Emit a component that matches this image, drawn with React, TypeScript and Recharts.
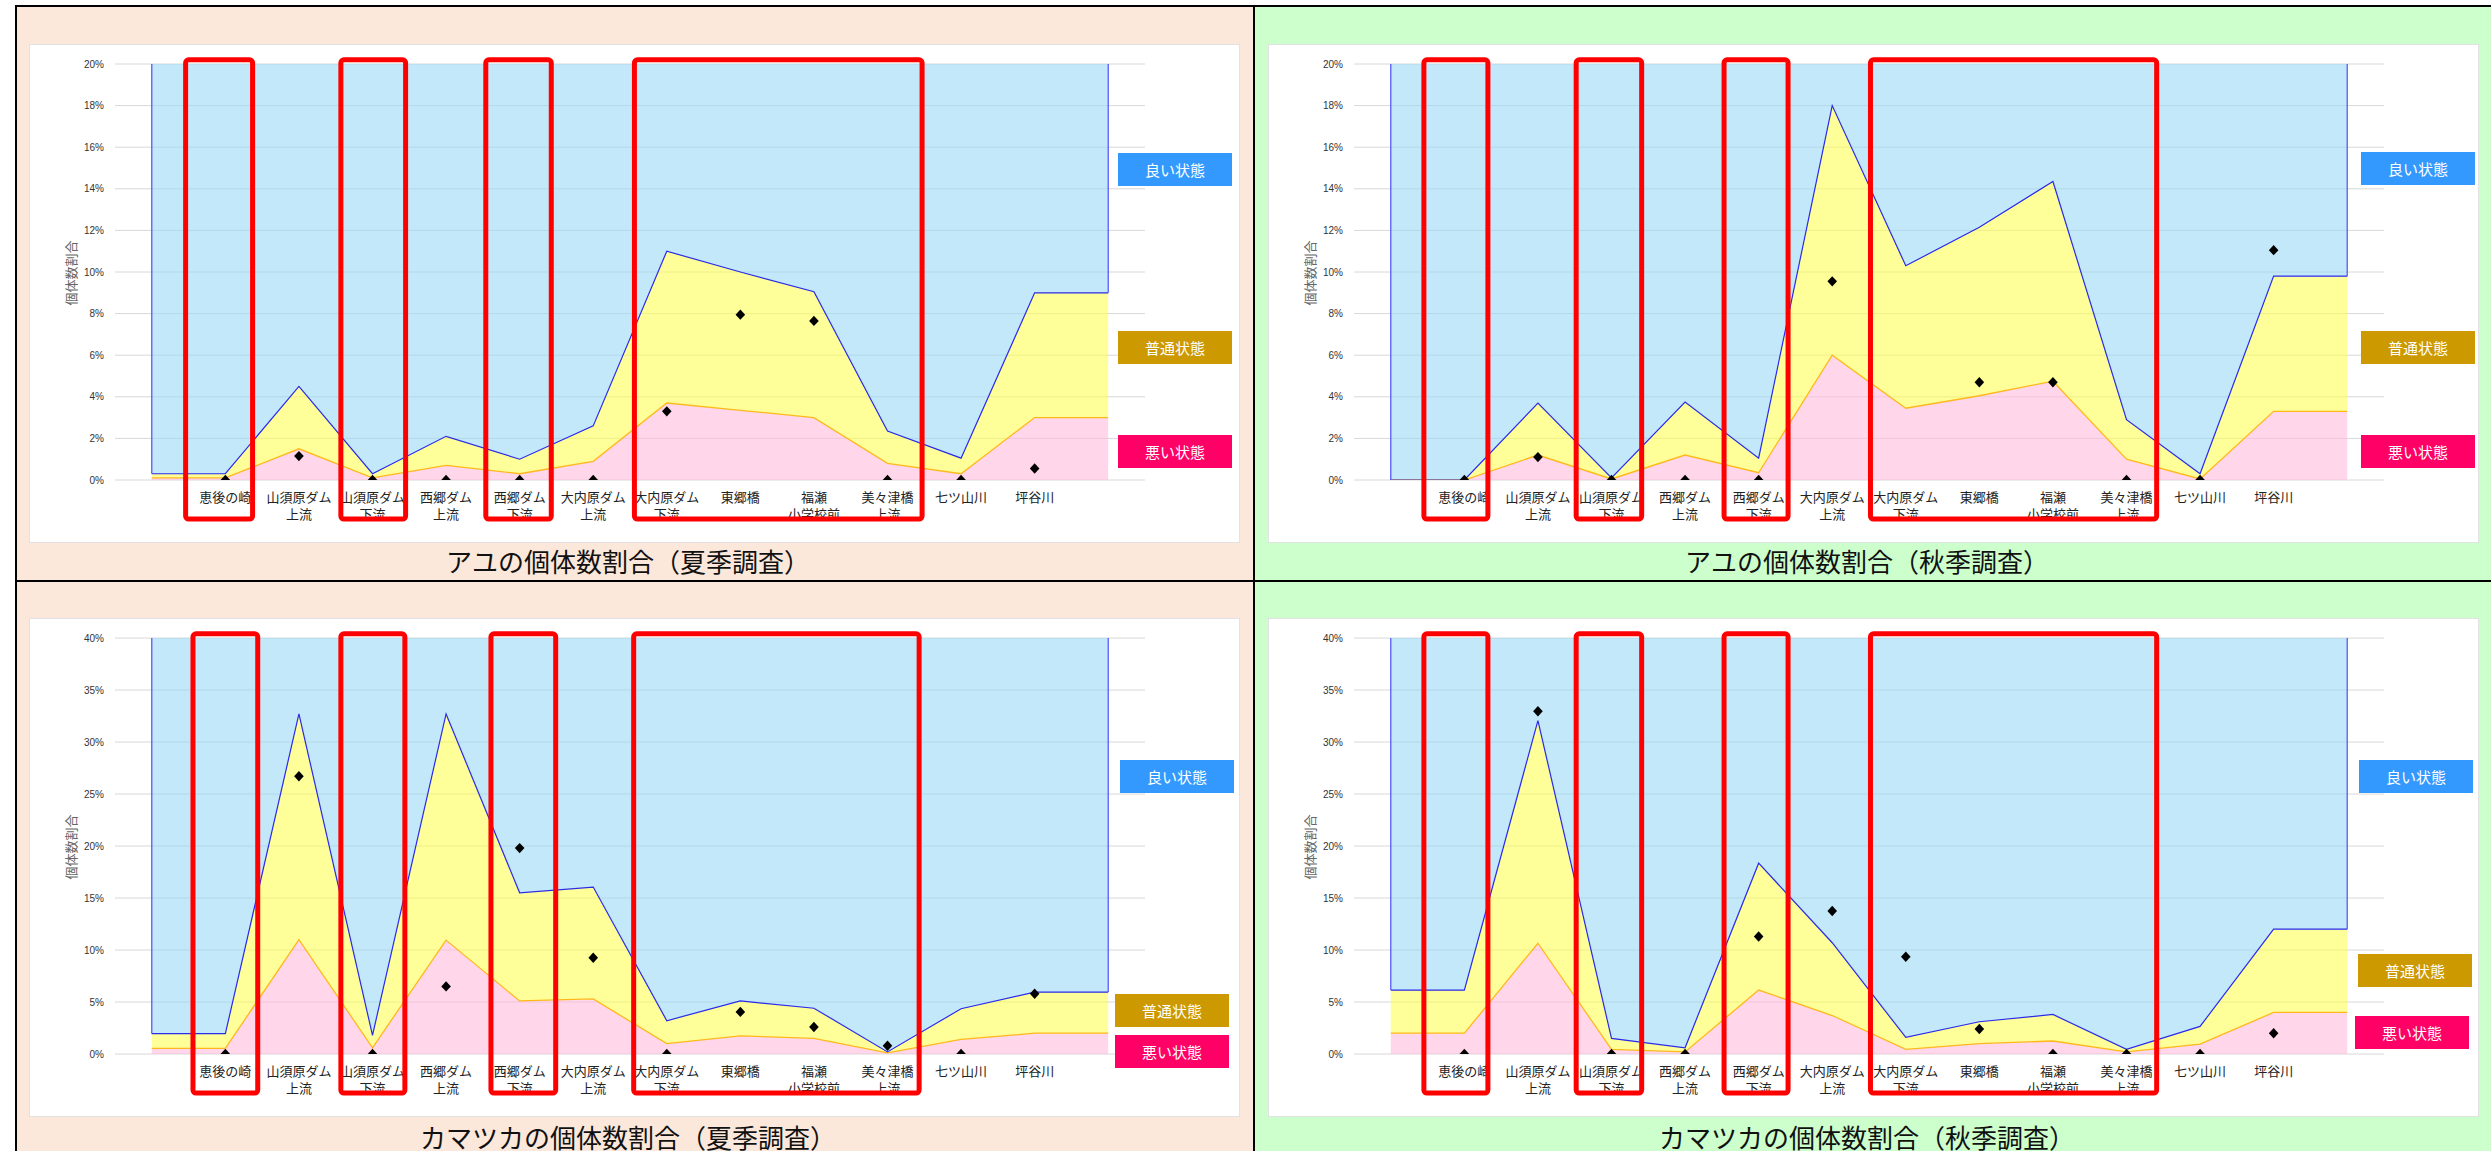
import React from "react";
import {
  ComposedChart,
  Area,
  Line,
  Scatter,
  XAxis,
  YAxis,
  CartesianGrid,
  ReferenceArea,
  ReferenceLine,
} from "recharts";

// 調査地点（左右の端は余白用の点として自動で追加）
const stations = [
  "恵後の崎",
  "山須原ダム\n上流",
  "山須原ダム\n下流",
  "西郷ダム\n上流",
  "西郷ダム\n下流",
  "大内原ダム\n上流",
  "大内原ダム\n下流",
  "東郷橋",
  "福瀬\n小学校前",
  "美々津橋\n上流",
  "七ツ山川",
  "坪谷川",
];

// アユ 夏季
const ayuSummerLower = [0.1, 1.5, 0.1, 0.7, 0.3, 0.9, 3.7, 3.35, 3.0, 0.8, 0.3, 3.0];
const ayuSummerUpper = [0.3, 4.5, 0.3, 2.1, 1.0, 2.6, 11.0, 10.0, 9.05, 2.35, 1.05, 9.0];
const ayuSummerObs = [0, 1.15, 0, 0, 0, 0, 3.3, 7.95, 7.65, 0, 0, 0.55];

// アユ 秋季
const ayuAutumnLower = [0, 1.2, 0.05, 1.2, 0.35, 6.0, 3.45, 4.05, 4.75, 1.0, 0.05, 3.3];
const ayuAutumnUpper = [0, 3.7, 0.1, 3.75, 1.05, 18.0, 10.3, 12.15, 14.35, 2.9, 0.3, 9.8];
const ayuAutumnObs = [0, 1.1, 0, 0, 0, 9.55, null, 4.7, 4.7, 0, 0, 11.05];

// カマツカ 夏季
const kamaSummerLower = [0.55, 11.0, 0.6, 10.95, 5.1, 5.3, 1.0, 1.75, 1.5, 0.1, 1.4, 2.0];
const kamaSummerUpper = [1.95, 32.7, 1.8, 32.7, 15.5, 16.05, 3.2, 5.1, 4.4, 0.2, 4.35, 5.95];
const kamaSummerObs = [0, 26.7, 0, 6.5, 19.8, 9.25, 0, 4.05, 2.6, 0.8, 0, 5.8];

// カマツカ 秋季
const kamaAutumnLower = [2.0, 10.65, 0.45, 0.2, 6.15, 3.7, 0.45, 1.0, 1.25, 0.2, 0.95, 4.0];
const kamaAutumnUpper = [6.15, 32.05, 1.5, 0.6, 18.35, 10.7, 1.6, 3.1, 3.8, 0.45, 2.65, 12.0];
const kamaAutumnObs = [0, 32.95, 0, 0, 11.3, 13.75, 9.35, 2.4, 0, 0, 0, 2.0];

const ticks20 = [0, 2, 4, 6, 8, 10, 12, 14, 16, 18, 20];
const ticks40 = [0, 5, 10, 15, 20, 25, 30, 35, 40];
const stationTicks = stations.map((_, i) => i + 1);

// 赤枠（地点インデックス単位）
const boxesLeft = [[0.46, 1.37], [2.57, 3.45], [4.54, 5.43], [6.56, 10.47]];
const boxesRight = [[0.45, 1.32], [2.52, 3.41], [4.53, 5.4], [6.52, 10.41]];
const boxesKamaLeft = [[0.56, 1.44], [2.57, 3.44], [4.61, 5.49], [6.55, 10.43]];

const JP = '"Noto Sans CJK JP", "Noto Sans", sans-serif';
const PEACH = "#FCE8DA";
const GREEN = "#CCFFCC";

const buildRows = (lower: number[], upper: number[], max: number) => {
  const idx = [0, ...lower.map((_, i) => i), lower.length - 1];
  return idx.map((k, i) => ({
    x: i,
    bad: lower[k],
    mid: upper[k] - lower[k],
    good: max - upper[k],
    lower: lower[k],
    upper: upper[k],
  }));
};

const buildObs = (obs: (number | null)[]) =>
  obs
    .map((v, i) => (v == null ? null : { x: i + 1, obs: v }))
    .filter((d) => d !== null);

const StationTick = ({ x, y, payload }: any) => {
  const label = stations[payload.value - 1] ?? "";
  return (
    <text x={x} y={y} textAnchor="middle" fontSize={13} fill="#222" fontFamily={JP}>
      {label.split("\n").map((l, i) => (
        <tspan key={i} x={x} dy={i === 0 ? 22 : 17}>
          {l}
        </tspan>
      ))}
    </text>
  );
};

const Diamond = ({ cx, cy }: any) => (
  <path
    d={`M${cx},${cy - 5.2}L${cx + 4.8},${cy}L${cx},${cy + 5.2}L${cx - 4.8},${cy}Z`}
    fill="#000"
  />
);

const Badge = ({ left, top, color, text }: any) => (
  <div
    style={{
      position: "absolute",
      left,
      top,
      width: 114,
      height: 33,
      background: color,
      color: "#fff",
      fontFamily: JP,
      fontSize: 15,
      lineHeight: "33px",
      textAlign: "center",
    }}
  >
    {text}
  </div>
);

const Panel = ({ p }: any) => {
  const rows = buildRows(p.lower, p.upper, p.max);
  const obs = buildObs(p.obs);
  const last = rows.length - 1;
  return (
    <div
      style={{
        position: "absolute",
        left: p.left,
        top: p.top,
        width: 1236,
        height: p.height,
        background: p.bg,
        overflow: "hidden",
      }}
    >
      <div
        style={{
          position: "absolute",
          left: p.cardLeft,
          top: p.cardTop,
          width: 1209,
          height: 497,
          background: "#fff",
          boxShadow: "0 0 0 1px #e2e2e2",
        }}
      >
        <ComposedChart
          width={1209}
          height={497}
          data={rows}
          margin={{ top: 19, right: 94, left: 0, bottom: 0 }}
        >
          <CartesianGrid vertical={false} stroke="#d8d8d8" />
          <XAxis
            dataKey="x"
            type="number"
            domain={[-0.5, 13.5]}
            allowDataOverflow
            ticks={stationTicks}
            interval={0}
            tick={<StationTick />}
            tickSize={0}
            tickMargin={0}
            axisLine={false}
            tickLine={false}
            height={62}
          />
          <YAxis
            type="number"
            domain={[0, p.max]}
            allowDataOverflow
            ticks={p.ticks}
            interval={0}
            tickFormatter={(v) => `${v}%`}
            tick={{ fontSize: 10, fill: "#333", fontFamily: "Liberation Sans, Arial" }}
            tickSize={0}
            tickMargin={11}
            axisLine={false}
            tickLine={false}
            width={85}
          />
          <Area
            type="linear"
            dataKey="bad"
            stackId="s"
            fill="#FFBBDC"
            fillOpacity={0.6}
            stroke="none"
            isAnimationActive={false}
          />
          <Area
            type="linear"
            dataKey="mid"
            stackId="s"
            fill="#FFFF55"
            fillOpacity={0.6}
            stroke="none"
            isAnimationActive={false}
          />
          <Area
            type="linear"
            dataKey="good"
            stackId="s"
            fill="#9AD9F7"
            fillOpacity={0.6}
            stroke="none"
            isAnimationActive={false}
          />
          <Line
            type="linear"
            dataKey="lower"
            stroke="#FFB81C"
            strokeWidth={1.3}
            dot={false}
            isAnimationActive={false}
          />
          <Line
            type="linear"
            dataKey="upper"
            stroke="#2A2AE8"
            strokeWidth={1.2}
            dot={false}
            isAnimationActive={false}
          />
          <ReferenceLine
            segment={[
              { x: 0, y: rows[0].upper },
              { x: 0, y: p.max },
            ]}
            stroke="#4D4DFF"
            strokeWidth={1.2}
          />
          <ReferenceLine
            segment={[
              { x: last, y: rows[last].upper },
              { x: last, y: p.max },
            ]}
            stroke="#4D4DFF"
            strokeWidth={1.2}
          />
          <Scatter
            data={obs}
            dataKey="obs"
            shape={<Diamond />}
            isAnimationActive={false}
          />
          {p.boxes.map((b: number[], i: number) => (
            <ReferenceArea
              key={i}
              x1={b[0]}
              x2={b[1]}
              y1={-p.max * 0.094}
              y2={p.max * 1.01}
              ifOverflow="visible"
              fill="none"
              fillOpacity={0}
              stroke="#FF0000"
              strokeWidth={5}
              radius={3}
              zIndex={2000}
            />
          ))}
        </ComposedChart>
        <div
          style={{
            position: "absolute",
            left: -9,
            top: 218,
            width: 100,
            height: 20,
            lineHeight: "20px",
            textAlign: "center",
            transform: "rotate(-90deg)",
            fontFamily: JP,
            fontSize: 13,
            color: "#666",
          }}
        >
          個体数割合
        </div>
        <Badge left={p.badges[0][0]} top={p.badges[0][1]} color="#3399FF" text="良い状態" />
        <Badge left={p.badges[1][0]} top={p.badges[1][1]} color="#CC9900" text="普通状態" />
        <Badge left={p.badges[2][0]} top={p.badges[2][1]} color="#FF0066" text="悪い状態" />
      </div>
      <div
        style={{
          position: "absolute",
          left: 0,
          top: p.titleTop,
          width: p.titleWidth,
          height: 30,
          lineHeight: "30px",
          textAlign: "center",
          fontFamily: JP,
          fontSize: 26,
          color: "#111",
        }}
      >
        {p.title}
      </div>
    </div>
  );
};

const panels = [
  {
    left: 17, top: 7, height: 573, bg: PEACH, cardLeft: 13, cardTop: 38,
    max: 20, ticks: ticks20, lower: ayuSummerLower, upper: ayuSummerUpper, obs: ayuSummerObs,
    boxes: boxesLeft, badges: [[1088, 108], [1088, 286], [1088, 390]],
    title: "アユの個体数割合（夏季調査）", titleTop: 539, titleWidth: 1222,
  },
  {
    left: 1255, top: 7, height: 573, bg: GREEN, cardLeft: 14, cardTop: 38,
    max: 20, ticks: ticks20, lower: ayuAutumnLower, upper: ayuAutumnUpper, obs: ayuAutumnObs,
    boxes: boxesRight, badges: [[1092, 107], [1092, 286], [1092, 390]],
    title: "アユの個体数割合（秋季調査）", titleTop: 539, titleWidth: 1224,
  },
  {
    left: 17, top: 582, height: 569, bg: PEACH, cardLeft: 13, cardTop: 37,
    max: 40, ticks: ticks40, lower: kamaSummerLower, upper: kamaSummerUpper, obs: kamaSummerObs,
    boxes: boxesKamaLeft, badges: [[1090, 141], [1085, 375], [1085, 416]],
    title: "カマツカの個体数割合（夏季調査）", titleTop: 540, titleWidth: 1222,
  },
  {
    left: 1255, top: 582, height: 569, bg: GREEN, cardLeft: 14, cardTop: 37,
    max: 40, ticks: ticks40, lower: kamaAutumnLower, upper: kamaAutumnUpper, obs: kamaAutumnObs,
    boxes: boxesRight, badges: [[1090, 141], [1089, 335], [1086, 397]],
    title: "カマツカの個体数割合（秋季調査）", titleTop: 540, titleWidth: 1224,
  },
];

export default function App() {
  return (
    <div
      style={{
        position: "fixed",
        left: 0,
        top: 0,
        width: 2491,
        height: 1151,
        background: "#fff",
        overflow: "hidden",
      }}
    >
      {panels.map((p, i) => (
        <Panel key={i} p={p} />
      ))}
      {/* 枠線 */}
      <div style={{ position: "absolute", left: 15, top: 5, width: 2476, height: 2, background: "#000" }} />
      <div style={{ position: "absolute", left: 15, top: 5, width: 2, height: 1146, background: "#000" }} />
      <div style={{ position: "absolute", left: 1253, top: 5, width: 2, height: 1146, background: "#000" }} />
      <div style={{ position: "absolute", left: 15, top: 580, width: 2476, height: 2, background: "#000" }} />
    </div>
  );
}
